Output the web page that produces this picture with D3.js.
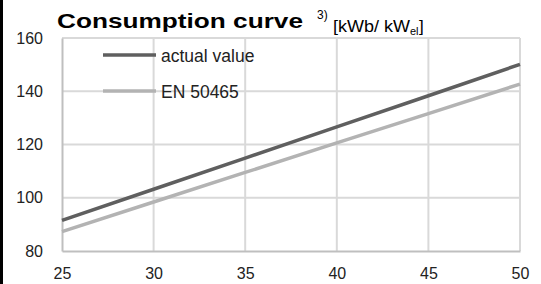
<!DOCTYPE html>
<meta charset="utf-8">
<head>
  <style>
    body { margin:0; background:#fff; }
    text { font-family: "Liberation Sans", Arial, sans-serif; }
  </style>
  <script src="https://d3js.org/d3.v7.min.js"></script>
</head>
<body>
<svg></svg>
<script>
  var xValues = [25, 30, 35, 40, 45, 50]
  var actualValue = [91.5, 103.2, 114.9, 126.6, 138.3, 150.1]
  var en50465 = [87.3, 98.4, 109.5, 120.6, 131.6, 142.7]
  var yTicks = [80, 100, 120, 140, 160]
  var seriesNames = ["actual value", "EN 50465"]

  var width = 541, height = 284
  var svg = d3.select('svg').attr('width', width).attr('height', height)

  // black strip on the left edge
  svg.append('rect').attr('x', 0).attr('y', 0).attr('width', 3).attr('height', height).attr('fill', '#000')

  var x = d3.scaleLinear().domain([25, 50]).range([62, 520])
  var y = d3.scaleLinear().domain([80, 160]).range([251, 38])

  // grid
  var grid = svg.append('g')
  grid.selectAll('.gx').data(xValues.slice(1)).enter().append('line')
    .attr('x1', d => x(d)).attr('x2', d => x(d))
    .attr('y1', y(160)).attr('y2', y(80))
    .attr('stroke', '#d9d9d9').attr('stroke-width', 2)
  grid.selectAll('.gy').data(yTicks.slice(1)).enter().append('line')
    .attr('x1', x(25)).attr('x2', x(50))
    .attr('y1', d => y(d)).attr('y2', d => y(d))
    .attr('stroke', '#d9d9d9').attr('stroke-width', 2)

  // axes
  var xAxis = svg.append('g').attr('transform', 'translate(0,' + y(80) + ')')
    .call(d3.axisBottom(x).tickValues(xValues).tickSize(0).tickPadding(17))
  xAxis.select('.domain').attr('stroke', '#bfbfbf').attr('stroke-width', 2)
  xAxis.selectAll('text').attr('font-size', 16).attr('fill', '#222').attr('font-family', '"Liberation Sans", Arial, sans-serif')

  var yAxis = svg.append('g').attr('transform', 'translate(' + x(25) + ',0)')
    .call(d3.axisLeft(y).tickValues(yTicks).tickSize(0).tickPadding(19))
  yAxis.select('.domain').attr('stroke', '#bfbfbf').attr('stroke-width', 2)
  yAxis.selectAll('text').attr('font-size', 16).attr('fill', '#222').attr('font-family', '"Liberation Sans", Arial, sans-serif')

  // series
  var line = d3.line().x((d, i) => x(xValues[i])).y(d => y(d))
  var colors = ['#5f5f5f', '#b3b3b3']
  ;[actualValue, en50465].forEach(function (s, i) {
    svg.append('path').datum(s).attr('d', line)
      .attr('fill', 'none').attr('stroke', colors[i]).attr('stroke-width', 3.5)
  })

  // legend
  var legend = svg.append('g')
  seriesNames.forEach(function (name, i) {
    var ly = 55 + i * 36
    legend.append('line').attr('x1', 103).attr('x2', 156).attr('y1', ly).attr('y2', ly)
      .attr('stroke', colors[i]).attr('stroke-width', 3.5)
    legend.append('text').attr('x', 161).attr('y', ly + 7).attr('font-size', 17.5)
      .attr('fill', '#222').text(name)
  })

  // title
  svg.append('text').attr('x', 57).attr('y', 28).attr('font-size', 21).attr('font-weight', 'bold')
    .attr('textLength', 246).attr('lengthAdjust', 'spacingAndGlyphs')
    .text('Consumption curve')
  svg.append('text').attr('x', 317).attr('y', 19).attr('font-size', 12).text('3)')
  svg.append('text').attr('x', 333).attr('y', 32).attr('font-size', 17)
    .attr('textLength', 77).attr('lengthAdjust', 'spacingAndGlyphs').text('[kWb/ kW')
  svg.append('text').attr('x', 410).attr('y', 35).attr('font-size', 11).text('el')
  svg.append('text').attr('x', 419).attr('y', 32).attr('font-size', 17).text(']')
</script>
</body>
